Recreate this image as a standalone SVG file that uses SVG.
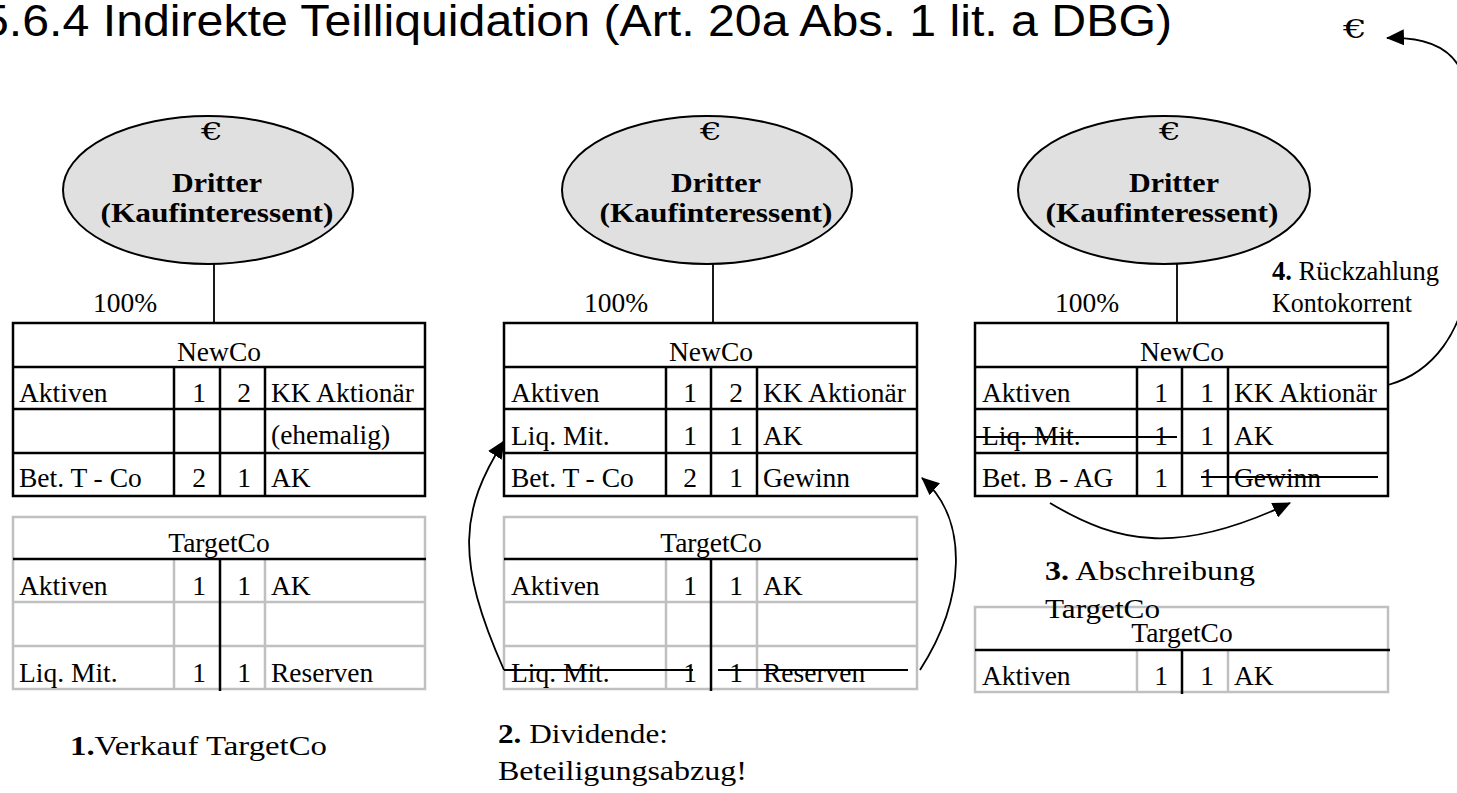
<svg xmlns="http://www.w3.org/2000/svg" width="1457" height="793" viewBox="0 0 1457 793">
<defs>
<style>
.t{font-family:"Liberation Serif","Times New Roman",serif;font-size:27.5px;fill:#000}
.c{text-anchor:middle}
.b{font-weight:bold}
.blk{stroke:#000;stroke-width:2.5;fill:none}
.gry{stroke:#c0c0c0;stroke-width:2.5;fill:none}
.ln{stroke:#000;stroke-width:1.8;fill:none}
.ell{fill:#e0e0e0;stroke:#000;stroke-width:2}
.eu{font-family:"DejaVu Serif","Liberation Serif",serif;font-weight:normal;fill:#000}
</style>
<marker id="ah" markerUnits="userSpaceOnUse" markerWidth="18" markerHeight="16" viewBox="0 0 18 16" refX="17" refY="8" orient="auto">
<path d="M0,0 L18,8 L0,16 Z" fill="#000"/>
</marker>
</defs>
<rect width="1457" height="793" fill="#fff"/>

<text x="-18" y="36" font-family="Liberation Sans, Arial, sans-serif" font-size="45" textLength="1190" lengthAdjust="spacingAndGlyphs">5.6.4 Indirekte Teilliquidation (Art. 20a Abs. 1 lit. a DBG)</text>
<text class="eu" x="1343" y="38" font-size="26" textLength="24" lengthAdjust="spacingAndGlyphs">€</text>

<!-- Ellipses -->
<g id="dritter1">
<ellipse class="ell" cx="208" cy="190" rx="145" ry="74"/>
<text class="eu c" x="212" y="140" font-size="24" textLength="22" lengthAdjust="spacingAndGlyphs" text-anchor="middle">€</text>
<text class="t c b" x="217" y="192" textLength="90" lengthAdjust="spacingAndGlyphs" font-size="27">Dritter</text>
<text class="t c b" x="217" y="222" textLength="233" lengthAdjust="spacingAndGlyphs" font-size="27">(Kaufinteressent)</text>
</g>
<g id="dritter2">
<ellipse class="ell" cx="707" cy="190" rx="145" ry="74"/>
<text class="eu c" x="711" y="140" font-size="24" textLength="22" lengthAdjust="spacingAndGlyphs" text-anchor="middle">€</text>
<text class="t c b" x="716" y="192" textLength="90" lengthAdjust="spacingAndGlyphs" font-size="27">Dritter</text>
<text class="t c b" x="716" y="222" textLength="233" lengthAdjust="spacingAndGlyphs" font-size="27">(Kaufinteressent)</text>
</g>
<g id="dritter3">
<ellipse class="ell" cx="1164" cy="190" rx="146" ry="74"/>
<text class="eu c" x="1170" y="140" font-size="24" textLength="22" lengthAdjust="spacingAndGlyphs" text-anchor="middle">€</text>
<text class="t c b" x="1174" y="192" textLength="90" lengthAdjust="spacingAndGlyphs" font-size="27">Dritter</text>
<text class="t c b" x="1162" y="222" textLength="233" lengthAdjust="spacingAndGlyphs" font-size="27">(Kaufinteressent)</text>
</g>

<!-- NewCo 1 -->
<g id="newco1">
<rect class="blk" x="13" y="323" width="412" height="173"/>
<path class="blk" d="M13,367H425M13,409H425M13,453H425M174,367V496M220,367V496M265,367V496"/>
<text class="t c" x="219" y="361">NewCo</text>
<text class="t" x="19" y="402">Aktiven</text><text class="t c" x="199" y="402">1</text><text class="t c" x="244" y="402">2</text><text class="t" x="271" y="402">KK Aktionär</text>
<text class="t" x="271" y="444">(ehemalig)</text>
<text class="t" x="19" y="487">Bet. T - Co</text><text class="t c" x="199" y="487">2</text><text class="t c" x="244" y="487">1</text><text class="t" x="271" y="487">AK</text>
</g>
<g id="target1">
<rect class="gry" x="13" y="517" width="412" height="172"/>
<path class="gry" d="M13,602H425M13,646H425M174,559V689M265,559V689"/>
<path class="blk" d="M13,559H426M220,559V691" stroke-width="2"/>
<text class="t c" x="219" y="552">TargetCo</text>
<text class="t" x="19" y="595">Aktiven</text><text class="t c" x="199" y="595">1</text><text class="t c" x="244" y="595">1</text><text class="t" x="271" y="595">AK</text>
<text class="t" x="19" y="682">Liq. Mit.</text><text class="t c" x="199" y="682">1</text><text class="t c" x="244" y="682">1</text><text class="t" x="271" y="682">Reserven</text>
</g>

<!-- NewCo 2 -->
<g id="newco2">
<rect class="blk" x="504" y="323" width="413" height="173"/>
<path class="blk" d="M504,367H917M504,409H917M504,453H917M666,367V496M711,367V496M757,367V496"/>
<text class="t c" x="711" y="361">NewCo</text>
<text class="t" x="511" y="402">Aktiven</text><text class="t c" x="690" y="402">1</text><text class="t c" x="736" y="402">2</text><text class="t" x="763" y="402">KK Aktionär</text>
<text class="t" x="511" y="445">Liq. Mit.</text><text class="t c" x="690" y="445">1</text><text class="t c" x="736" y="445">1</text><text class="t" x="763" y="445">AK</text>
<text class="t" x="511" y="487">Bet. T - Co</text><text class="t c" x="690" y="487">2</text><text class="t c" x="736" y="487">1</text><text class="t" x="763" y="487">Gewinn</text>
</g>
<g id="target2">
<rect class="gry" x="504" y="517" width="413" height="172"/>
<path class="gry" d="M504,602H917M504,646H917M666,559V689M757,559V689"/>
<path class="blk" d="M504,559H918M711,559V691" stroke-width="2"/>
<text class="t c" x="711" y="552">TargetCo</text>
<text class="t" x="511" y="595">Aktiven</text><text class="t c" x="690" y="595">1</text><text class="t c" x="736" y="595">1</text><text class="t" x="763" y="595">AK</text>
<text class="t" x="511" y="682">Liq. Mit.</text><text class="t c" x="690" y="682">1</text><text class="t c" x="736" y="682">1</text><text class="t" x="763" y="682">Reserven</text>
<path class="ln" d="M504,670H693M718,670H908" stroke-width="1.6"/>
</g>

<!-- NewCo 3 -->
<g id="newco3">
<rect class="blk" x="975" y="323" width="413" height="173"/>
<path class="blk" d="M975,367H1388M975,409H1388M975,453H1388M1137,367V496M1182,367V496M1228,367V496"/>
<text class="t c" x="1182" y="361">NewCo</text>
<text class="t" x="982" y="402">Aktiven</text><text class="t c" x="1161" y="402">1</text><text class="t c" x="1207" y="402">1</text><text class="t" x="1234" y="402">KK Aktionär</text>
<text class="t" x="982" y="445">Liq. Mit.</text><text class="t c" x="1161" y="445">1</text><text class="t c" x="1207" y="445">1</text><text class="t" x="1234" y="445">AK</text>
<text class="t" x="982" y="487">Bet. B - AG</text><text class="t c" x="1161" y="487">1</text><text class="t c" x="1207" y="487">1</text><text class="t" x="1234" y="487">Gewinn</text>
<path class="ln" d="M975,437H1177M1201,477H1378" stroke-width="1.6"/>
</g>
<g id="target3">
<rect class="gry" x="975" y="607" width="413" height="85"/>
<path class="gry" d="M1137,650V692M1228,650V692"/>
<path class="blk" d="M975,650H1390M1182,650V694" stroke-width="2"/>
<text class="t c" x="1182" y="642">TargetCo</text>
<text class="t" x="982" y="685">Aktiven</text><text class="t c" x="1161" y="685">1</text><text class="t c" x="1207" y="685">1</text><text class="t" x="1234" y="685">AK</text>
</g>

<!-- Labels -->
<g id="labels">
<text class="t" x="1055" y="312" font-size="29">100%</text>
<text class="t" x="93" y="312" font-size="29">100%</text>
<text class="t" x="584" y="312" font-size="29">100%</text>
<text class="t" x="1272" y="280" font-size="24" textLength="167" lengthAdjust="spacingAndGlyphs"><tspan font-weight="bold">4.</tspan> Rückzahlung</text>
<text class="t" x="1272" y="312" font-size="24" textLength="140" lengthAdjust="spacingAndGlyphs">Kontokorrent</text>
<text class="t" x="1045" y="580" font-size="28" textLength="210" lengthAdjust="spacingAndGlyphs"><tspan font-weight="bold">3.</tspan> Abschreibung</text>
<text class="t" x="1045" y="618" font-size="28" textLength="115" lengthAdjust="spacingAndGlyphs">TargetCo</text>
<text class="t" x="70" y="755" font-size="28" textLength="257" lengthAdjust="spacingAndGlyphs"><tspan font-weight="bold">1.</tspan>Verkauf TargetCo</text>
<text class="t" x="498" y="743" font-size="28" textLength="170" lengthAdjust="spacingAndGlyphs"><tspan font-weight="bold">2.</tspan> Dividende:</text>
<text class="t" x="498" y="780" font-size="28" textLength="249" lengthAdjust="spacingAndGlyphs">Beteiligungsabzug!</text>
</g>

<!-- Connectors -->
<g id="connectors">
<path class="ln" d="M214,264V323"/>
<path class="ln" d="M713,264V323"/>
<path class="ln" d="M1177,264V323"/>
<path class="ln" d="M504,670C455,560 460,510 504,441" marker-end="url(#ah)"/>
<path class="ln" d="M920,670C965,600 970,520 922,478" marker-end="url(#ah)"/>
<path class="ln" d="M1050,503C1120,545 1180,555 1290,503" marker-end="url(#ah)"/>
<path class="ln" d="M1388,385C1435,372 1462,330 1468,280L1468,100C1466,58 1440,36 1387,38" marker-end="url(#ah)"/>
</g>
</svg>
